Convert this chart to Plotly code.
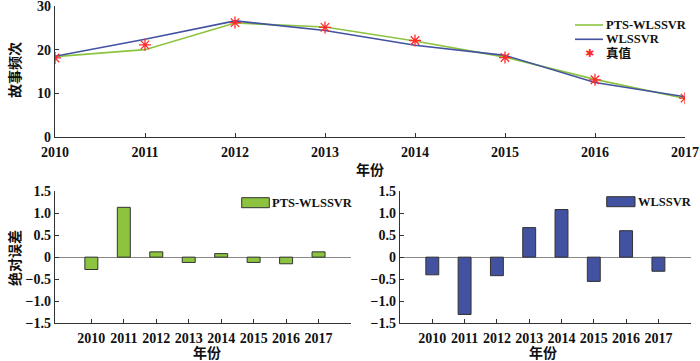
import plotly.graph_objects as go

years = [2010, 2011, 2012, 2013, 2014, 2015, 2016, 2017]
true_vals = [18.1, 21.1, 26.2, 25.1, 22.1, 18.2, 13.1, 8.9]
pts_pred = [18.4, 20.0, 26.1, 25.2, 22.0, 18.3, 13.2, 8.8]
wls_pred = [18.5, 22.4, 26.6, 24.4, 21.0, 18.7, 12.5, 9.2]
pts_err = [-0.28, 1.13, 0.12, -0.12, 0.08, -0.12, -0.15, 0.12]
wls_err = [-0.40, -1.30, -0.42, 0.67, 1.08, -0.55, 0.60, -0.32]
year_labels = [str(y) for y in years]
err_ticks = [-1.5, -1.0, -0.5, 0, 0.5, 1.0, 1.5]
err_ticktext = ["\u22121.5", "\u22121.0", "\u22120.5", "0", "0.5", "1.0", "1.5"]
cnt_ticks = [0, 10, 20, 30]

W, H = 700, 361
GREEN = "#8cc43f"
BLUE = "#4252a0"
RED = "#ff2a2a"
FONT = "'Liberation Serif', 'Times New Roman', 'Noto Sans CJK SC', serif"
TXT = "#111111"

def px(x):
    return x / W

def py(y):
    return (H - y) / H

fig = go.Figure()

fig.add_trace(go.Scatter(x=years, y=pts_pred, mode="lines", name="PTS-WLSSVR",
                         line=dict(color=GREEN, width=1.6), xaxis="x", yaxis="y"))
fig.add_trace(go.Scatter(x=years, y=wls_pred, mode="lines", name="WLSSVR",
                         line=dict(color=BLUE, width=1.6), xaxis="x", yaxis="y"))
fig.add_trace(go.Scatter(x=years, y=true_vals, mode="markers", name="真值",
                         marker=dict(symbol="asterisk-open", size=10, color=RED,
                                     line=dict(color=RED, width=1.3)),
                         xaxis="x", yaxis="y"))

idx = list(range(len(years)))
fig.add_trace(go.Bar(x=idx, y=pts_err, name="PTS-WLSSVR", width=0.4,
                     marker=dict(color=GREEN, line=dict(color="#333333", width=1)),
                     xaxis="x2", yaxis="y2"))
fig.add_trace(go.Bar(x=idx, y=wls_err, name="WLSSVR", width=0.4,
                     marker=dict(color=BLUE, line=dict(color="#333333", width=1)),
                     xaxis="x3", yaxis="y3"))

tickfont = dict(family=FONT, size=14, color=TXT, weight="bold")
axis_common = dict(showline=True, linecolor="#333333", linewidth=1.2, ticks="inside",
                   ticklen=4, tickcolor="#333333", showgrid=False, tickfont=tickfont,
                   automargin=False, ticklabeloverflow="allow")

fig.update_layout(
    width=W, height=H,
    margin=dict(l=0, r=0, t=0, b=0, autoexpand=False),
    paper_bgcolor="white", plot_bgcolor="white",
    font=dict(family=FONT, size=14, color=TXT),
    showlegend=False,
    xaxis=dict(domain=[px(55), px(685)], range=[2010, 2017], tickvals=years, ticktext=year_labels,
               anchor="y", zeroline=False, ticklabelstandoff=2, **axis_common),
    yaxis=dict(domain=[py(137), py(6)], range=[0, 30], tickvals=cnt_ticks,
               anchor="x", zeroline=False, **axis_common),
    xaxis2=dict(domain=[px(55), px(351)], range=[-1.12, 8], tickvals=idx + [8],
                ticktext=year_labels + [""], anchor="y2", zeroline=False,
                ticklabelstandoff=2, **axis_common),
    yaxis2=dict(domain=[py(323.3), py(191)], range=[-1.5, 1.5], tickvals=err_ticks,
                ticktext=err_ticktext, anchor="x2", zeroline=True, zerolinecolor="#888888",
                zerolinewidth=1, **axis_common),
    xaxis3=dict(domain=[px(400), px(690.7)], range=[-1, 8], tickvals=idx + [8],
                ticktext=year_labels + [""], anchor="y3", zeroline=False,
                ticklabelstandoff=2, **axis_common),
    yaxis3=dict(domain=[py(323.3), py(191)], range=[-1.5, 1.5], tickvals=err_ticks,
                ticktext=err_ticktext, anchor="x3", zeroline=True, zerolinecolor="#888888",
                zerolinewidth=1, **axis_common),
)

ann_font = dict(family=FONT, size=14, color=TXT, weight="bold")
leg_font = dict(family=FONT, size=12.5, color=TXT, weight="bold")

def text(t, x, y, font=ann_font, angle=0, xanchor="center"):
    fig.add_annotation(text=t, x=px(x), y=py(y), xref="paper", yref="paper",
                       xanchor=xanchor, yanchor="middle", textangle=angle,
                       showarrow=False, font=font)

text("故事频次", 15, 70, angle=-90)
text("年份", 370, 170)
text("绝对误差", 15, 258, angle=-90)
text("年份", 207, 353)
text("年份", 543, 353)

# top legend (manual)
for (name, color, yy) in [("PTS-WLSSVR", GREEN, 25), ("WLSSVR", BLUE, 39.3)]:
    fig.add_shape(type="line", xref="paper", yref="paper", x0=px(575), x1=px(603),
                  y0=py(yy), y1=py(yy), line=dict(color=color, width=1.6))
    text(name, 604, yy, font=leg_font, xanchor="left")
fig.add_annotation(text="✱", x=px(589), y=py(53.3), xref="paper", yref="paper",
                   showarrow=False, xanchor="center", yanchor="middle",
                   font=dict(family="DejaVu Sans", size=11, color=RED))
text("真值", 604, 53.3, font=leg_font, xanchor="left")

# bar legends (manual)
for (name, color, x0, x1, yc) in [("PTS-WLSSVR", GREEN, 241.7, 269.3, 202.7),
                                  ("WLSSVR", BLUE, 606.7, 635, 201.7)]:
    fig.add_shape(type="rect", xref="paper", yref="paper", x0=px(x0), x1=px(x1),
                  y0=py(yc + 5), y1=py(yc - 5), fillcolor=color,
                  line=dict(color="#333333", width=1))
    text(name, x1 + 1, yc, font=leg_font, xanchor="left")

fig.write_html("out.html", config={"displayModeBar": False},
               post_script="document.body.style.margin='0';")
